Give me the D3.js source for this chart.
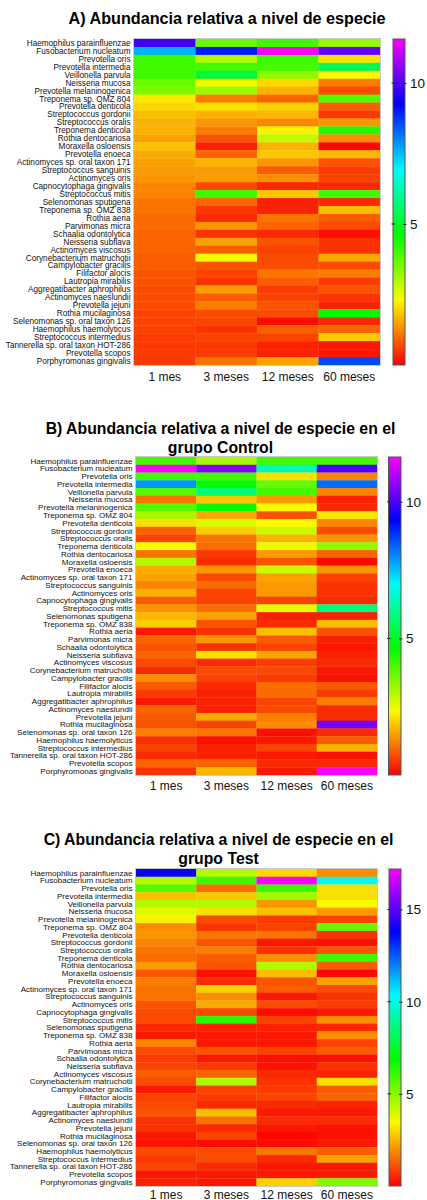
<!DOCTYPE html>
<html>
<head>
<meta charset="utf-8">
<script src="https://cdn.jsdelivr.net/npm/d3@7"></script>
<style>
  body { margin: 0; background: #fff; }
  svg { display: block; font-family: "Liberation Sans", Arial, sans-serif; }
</style>
</head>
<body>
<div id="chart"></div>
<script>
const especies = [
  "Haemophilus parainfluenzae", "Fusobacterium nucleatum", "Prevotella oris", "Prevotella intermedia",
  "Veillonella parvula", "Neisseria mucosa", "Prevotella melaninogenica", "Treponema sp. OMZ 804",
  "Prevotella denticola", "Streptococcus gordonii", "Streptococcus oralis", "Treponema denticola",
  "Rothia dentocariosa", "Moraxella osloensis", "Prevotella enoeca", "Actinomyces sp. oral taxon 171",
  "Streptococcus sanguinis", "Actinomyces oris", "Capnocytophaga gingivalis", "Streptococcus mitis",
  "Selenomonas sputigena", "Treponema sp. OMZ 838", "Rothia aeria", "Parvimonas micra",
  "Schaalia odontolytica", "Neisseria subflava", "Actinomyces viscosus", "Corynebacterium matruchotii",
  "Campylobacter gracilis", "Filifactor alocis", "Lautropia mirabilis", "Aggregatibacter aphrophilus",
  "Actinomyces naeslundii", "Prevotella jejuni", "Rothia mucilaginosa", "Selenomonas sp. oral taxon 126",
  "Haemophilus haemolyticus", "Streptococcus intermedius", "Tannerella sp. oral taxon HOT-286",
  "Prevotella scopos", "Porphyromonas gingivalis"
];

const meses = ["1 mes", "3 meses", "12 meses", "60 meses"];

// abundancia relativa (%) por especie: [1 mes, 3 meses, 12 meses, 60 meses]
const abundanciaTotal = [
  [9.84, 3.67, 4.05, 3.24], [7.60, 9.03, 11.56, 10.15], [4.05, 2.97, 4.05, 2.08], [4.05, 4.00, 4.00, 5.40],
  [4.05, 5.17, 3.32, 2.32], [3.63, 2.43, 2.01, 1.16], [3.47, 3.17, 1.66, 0.69], [2.16, 1.16, 0.93, 3.86],
  [2.01, 2.08, 1.93, 0.85], [1.78, 1.66, 1.70, 0.54], [1.66, 1.39, 1.24, 1.39], [1.66, 1.16, 2.24, 4.32],
  [1.51, 0.77, 2.82, 1.31], [1.78, 0.31, 1.66, 0.08], [1.58, 0.93, 1.85, 1.70], [1.51, 1.66, 1.39, 0.77],
  [1.43, 1.43, 0.85, 0.54], [1.39, 1.43, 1.31, 0.62], [1.24, 0.69, 0.39, 0.39], [1.24, 4.05, 1.85, 4.05],
  [1.08, 0.93, 0.31, 0.39], [1.08, 0.54, 0.31, 1.78], [1.00, 0.39, 1.08, 0.85], [1.00, 1.39, 0.93, 0.69],
  [0.93, 0.46, 0.39, 0.15], [0.93, 1.51, 0.77, 0.46], [0.93, 0.85, 0.62, 0.46], [0.85, 2.35, 0.69, 1.58],
  [0.85, 0.77, 0.69, 0.69], [0.77, 0.62, 1.08, 1.16], [0.77, 0.46, 0.85, 0.54], [0.69, 1.43, 0.54, 0.77],
  [0.69, 0.85, 0.62, 0.46], [0.69, 1.16, 0.77, 0.31], [0.62, 0.69, 0.69, 4.63], [0.62, 0.62, 0.12, 0.39],
  [0.62, 0.46, 0.85, 0.93], [0.54, 0.62, 0.62, 1.85], [0.54, 0.54, 0.31, 0.23], [0.54, 0.54, 0.31, 0.23],
  [0.54, 1.08, 1.51, 8.57]
];

const abundanciaControl = [
  [4.05, 3.09, 4.05, 4.05], [11.64, 10.58, 6.37, 10.00], [4.05, 4.05, 2.08, 1.24], [7.91, 4.63, 3.71, 8.30],
  [3.86, 5.71, 4.05, 1.24], [1.08, 1.85, 1.43, 0.31], [3.86, 4.63, 2.32, 0.39], [3.09, 1.58, 0.77, 2.16],
  [2.08, 2.59, 2.32, 1.24], [0.93, 1.93, 2.74, 0.69], [0.62, 1.08, 1.70, 1.39], [2.32, 1.00, 2.43, 3.32],
  [1.08, 0.54, 1.43, 0.93], [3.01, 0.39, 0.77, 0.08], [1.58, 1.39, 2.74, 1.39], [1.51, 0.69, 1.51, 0.62],
  [1.24, 1.00, 1.43, 0.46], [1.66, 0.62, 1.43, 0.46], [0.85, 0.62, 0.62, 0.39], [1.39, 1.00, 2.51, 5.79],
  [1.70, 1.51, 0.31, 0.31], [1.93, 0.77, 0.39, 1.78], [0.23, 0.46, 1.78, 0.77], [0.93, 1.39, 0.85, 0.31],
  [0.77, 0.46, 0.62, 0.23], [0.93, 2.08, 1.51, 0.31], [0.69, 0.39, 0.54, 0.39], [0.39, 0.69, 0.69, 0.23],
  [1.31, 0.62, 0.54, 0.15], [0.85, 0.39, 1.00, 0.85], [0.54, 0.31, 1.00, 0.54], [0.23, 0.31, 0.62, 1.16],
  [0.93, 0.31, 0.69, 0.39], [0.85, 1.58, 1.16, 0.39], [0.77, 0.62, 1.31, 10.42], [1.16, 1.08, 0.15, 0.39],
  [0.46, 0.15, 0.23, 0.85], [0.62, 0.31, 0.62, 1.66], [0.39, 0.31, 0.23, 0.15], [0.93, 0.93, 0.39, 0.39],
  [0.46, 1.70, 0.23, 11.60]
];

const abundanciaTest = [
  [13.90, 4.41, 2.98, 1.95], [4.41, 6.02, 17.20, 10.20], [5.73, 1.49, 6.02, 3.09], [2.64, 2.75, 4.70, 3.09],
  [4.41, 4.41, 2.06, 3.44], [3.84, 3.09, 2.64, 2.12], [3.32, 1.03, 0.80, 0.92], [1.95, 0.69, 0.92, 5.50],
  [2.06, 1.60, 1.60, 0.69], [1.83, 1.15, 0.34, 0.23], [1.60, 1.72, 0.69, 1.15], [1.49, 1.26, 1.95, 6.02],
  [2.12, 1.15, 4.41, 1.26], [1.15, 0.23, 2.64, 0.11], [1.72, 0.57, 1.15, 2.23], [1.60, 2.87, 1.26, 1.03],
  [1.60, 1.95, 0.34, 0.69], [1.15, 2.35, 1.03, 0.80], [1.03, 1.03, 0.17, 0.34], [1.03, 6.30, 0.92, 1.95],
  [0.57, 0.46, 0.46, 0.57], [0.34, 0.34, 0.34, 1.95], [1.83, 0.34, 0.34, 0.92], [1.03, 1.15, 0.92, 1.26],
  [0.80, 0.34, 0.23, 0.23], [0.92, 0.80, 0.23, 0.69], [1.26, 1.38, 0.57, 0.46], [1.03, 4.47, 0.69, 3.09],
  [0.34, 0.92, 0.80, 1.26], [0.92, 0.80, 0.92, 1.38], [1.03, 0.57, 0.57, 0.46], [1.15, 2.64, 0.34, 0.34],
  [0.69, 1.60, 0.57, 0.57], [0.69, 0.57, 0.34, 0.23], [0.34, 0.92, 0.11, 0.23], [0.23, 0.17, 0.17, 0.34],
  [1.03, 1.03, 1.60, 1.26], [0.80, 1.03, 0.57, 2.23], [0.92, 0.57, 0.34, 0.34], [0.34, 0.34, 0.34, 0.34],
  [0.46, 0.34, 2.87, 5.16]
];

const ticksTotal = [5, 10];
const ticksControl = [5, 10];
const ticksTest = [5, 10, 15];

const titulos = [
  ["A) Abundancia relativa a nivel de especie"],
  ["B) Abundancia relativa a nivel de especie en el", "grupo Control"],
  ["C) Abundancia relativa a nivel de especie en el", "grupo Test"]
];

const W = 427, H = 1200;
const svg = d3.select("#chart").append("svg").attr("width", W).attr("height", H);
const defs = svg.append("defs");

// escala arcoiris: rojo (min) -> magenta (max)
function arcoiris(max) {
  return v => d3.hsl(300 * Math.max(0, Math.min(1, v / max)), 1, 0.49).toString();
}

function dibujarPanel(p, i) {
  const max = d3.max(p.valores.flat());
  const color = arcoiris(max);
  const g = svg.append("g");

  // título
  const t = g.append("text")
    .attr("x", p.tituloX).attr("y", p.tituloY)
    .attr("text-anchor", "middle")
    .attr("font-weight", "bold").attr("font-size", p.tituloSize)
    .attr("fill", "#000");
  p.titulo.forEach((linea, k) => {
    t.append("tspan").attr("x", p.tituloX).attr("dy", k === 0 ? 0 : 18.5).text(linea);
  });

  const x = d3.scaleBand().domain(meses).range([p.x0, p.x1]);
  const y = d3.scaleBand().domain(especies).range([p.y0, p.y1]);

  const celdas = [];
  p.valores.forEach((fila, r) => fila.forEach((v, c) => celdas.push({ esp: especies[r], mes: meses[c], v })));

  g.append("g").selectAll("rect").data(celdas).join("rect")
    .attr("x", d => x(d.mes))
    .attr("y", d => y(d.esp))
    .attr("width", x.bandwidth() + 0.3)
    .attr("height", y.bandwidth() + 0.3)
    .attr("fill", d => color(d.v));

  g.append("rect")
    .attr("x", p.x0 - 0.5).attr("y", p.y0 - 0.5)
    .attr("width", p.x1 - p.x0 + 1).attr("height", p.y1 - p.y0 + 1)
    .attr("fill", "none").attr("stroke", "#c9c9c9").attr("stroke-width", 1);

  // etiquetas de especies
  g.append("g").selectAll("text").data(especies).join("text")
    .attr("x", p.x0 - 3.5)
    .attr("y", d => y(d) + y.bandwidth() / 2)
    .attr("dy", "0.35em")
    .attr("text-anchor", "end")
    .attr("font-size", p.etiquetaSize)
    .attr("fill", "#111")
    .text(d => d);

  // etiquetas de meses
  g.append("g").selectAll("text").data(meses).join("text")
    .attr("x", d => x(d) + x.bandwidth() / 2)
    .attr("y", p.mesY)
    .attr("text-anchor", "middle")
    .attr("font-size", 12)
    .attr("fill", "#111")
    .text(d => d);

  // barra de color
  const gradId = "grad" + i;
  const grad = defs.append("linearGradient").attr("id", gradId)
    .attr("x1", 0).attr("y1", 1).attr("x2", 0).attr("y2", 0);
  d3.range(0, 1.0001, 0.05).forEach(s => {
    grad.append("stop").attr("offset", s).attr("stop-color", color(s * max));
  });

  const cy = d3.scaleLinear().domain([0, max]).range([p.y1, p.y0]);
  g.append("rect")
    .attr("x", p.barX).attr("y", p.y0)
    .attr("width", p.barW).attr("height", p.y1 - p.y0)
    .attr("fill", `url(#${gradId})`)
    .attr("stroke", "#555").attr("stroke-width", 1);

  const eje = g.append("g")
    .attr("transform", `translate(${p.barX + p.barW},0)`)
    .call(d3.axisRight(cy).tickValues(p.ticks).tickSize(2).tickPadding(3).tickFormat(d3.format("d")));
  eje.select(".domain").remove();
  eje.selectAll(".tick line").attr("x1", -2).attr("x2", 1.5).attr("stroke", "#222");
  eje.selectAll(".tick text").attr("font-size", 13.5).attr("fill", "#111")
    .attr("font-family", '"Liberation Sans", Arial, sans-serif');
  g.append("g").selectAll("line").data(p.ticks).join("line")
    .attr("x1", p.barX - 1.5).attr("x2", p.barX + 2)
    .attr("y1", d => cy(d)).attr("y2", d => cy(d))
    .attr("stroke", "#222");
}

const paneles = [
  { valores: abundanciaTotal, ticks: ticksTotal, titulo: titulos[0], tituloX: 227, tituloY: 24, tituloSize: 16.2,
    x0: 134, x1: 380, y0: 39, y1: 365, etiquetaSize: 8.2, mesY: 380.5, barX: 393, barW: 12 },
  { valores: abundanciaControl, ticks: ticksControl, titulo: titulos[1], tituloX: 220.5, tituloY: 434, tituloSize: 15.8,
    x0: 136, x1: 377, y0: 457, y1: 775, etiquetaSize: 8.05, mesY: 790, barX: 388.5, barW: 12.5 },
  { valores: abundanciaTest, ticks: ticksTest, titulo: titulos[2], tituloX: 218.5, tituloY: 845, tituloSize: 15.8,
    x0: 136, x1: 377, y0: 869, y1: 1186, etiquetaSize: 8.05, mesY: 1198.5, barX: 389, barW: 12 }
];

paneles.forEach(dibujarPanel);
</script>
</body>
</html>
